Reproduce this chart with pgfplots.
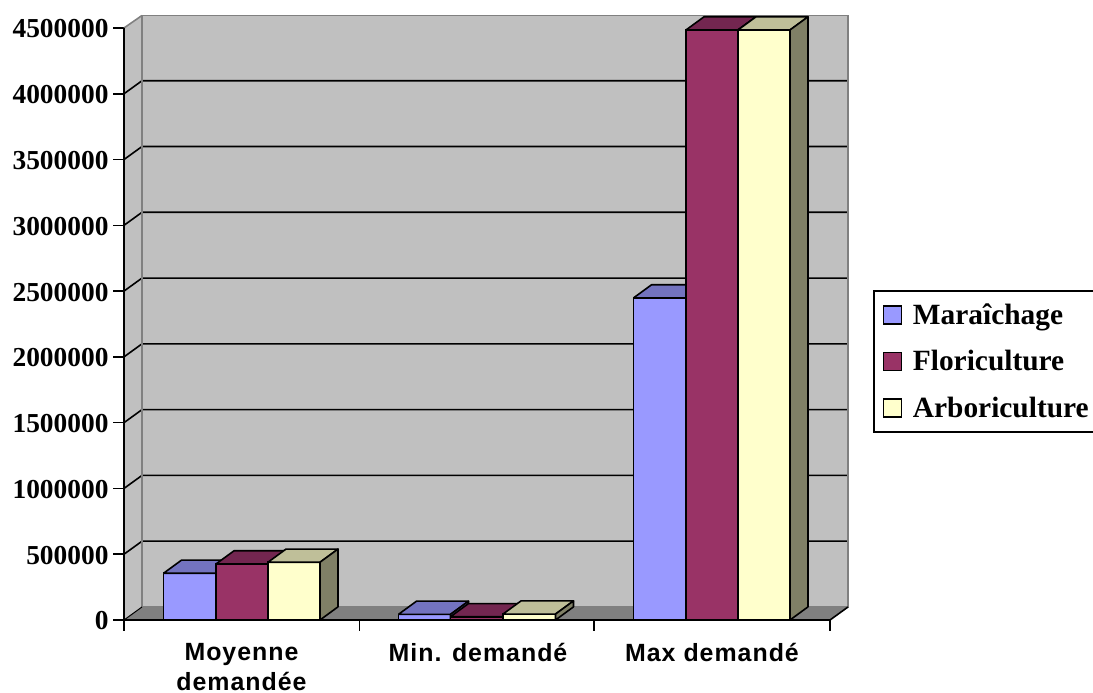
\documentclass[border=0pt]{standalone}
\usepackage{fontspec}
\usepackage{pgfplots}
\pgfplotsset{compat=1.18}
\setmainfont{Liberation Serif}
\newfontfamily\catfont[LetterSpace=4]{Liberation Sans}
\definecolor{wall}{HTML}{C0C0C0}
\definecolor{floorc}{HTML}{808080}
\definecolor{maraF}{HTML}{9999FF}
\definecolor{maraT}{HTML}{7373BF}
\definecolor{floF}{HTML}{993366}
\definecolor{floT}{HTML}{732650}
\definecolor{floS}{HTML}{4D1A33}
\definecolor{arbF}{HTML}{FFFFCC}
\definecolor{arbT}{HTML}{BFBF99}
\definecolor{arbS}{HTML}{808066}
\definecolor{maraS}{HTML}{4D4D80}
\newcommand{\lw}{1.6bp}
% one 3D column: left edge, right edge, value, then front, top and side colours
\newcommand{\column}[6]{%
  \addplot[forget plot,ybar,bar shift=0pt,bar width=#2-#1,fill=#4,draw=black,line width=\lw]
    coordinates {({(#1+#2)/2},#3)};
  \addplot[forget plot,fill=#5,draw=black,line width=\lw,line join=round]
    coordinates {(#1,#3) (#2,#3) (#2+18,#3+100000) (#1+18,#3+100000) (#1,#3)};
  \addplot[forget plot,fill=#6,draw=black,line width=\lw,line join=round]
    coordinates {(#2,0) (#2,#3) (#2+18,#3+100000) (#2+18,100000) (#2,0)};
}
\begin{document}
\begin{tikzpicture}[x=1bp,y=1bp]
\path[use as bounding box] (0,0) rectangle (1093,693);
\begin{axis}[
  at={(124bp,73bp)},anchor=south west,
  scale only axis,width=724bp,height=604.5bp,
  xmin=124,xmax=848,ymin=0,ymax=4595000,
  clip=false,
  axis x line=bottom,axis y line=left,
  axis line style={draw=none,-},
  tick align=outside,major tick length=11bp,
  every tick/.style={black,line width=\lw},
  xtick={124,359.5,594,830},xticklabels={},
  extra x ticks={241.5,478,712},
  extra x tick labels={Moyenne\\demandée,Min. demandé,Max demandé},
  extra x tick style={major tick length=0pt,
    tick label style={align=center,anchor=north,yshift=-19.5bp,
      font=\catfont\fontsize{25}{30}\selectfont\bfseries}},
  ytick={0,500000,...,4500000},
  scaled y ticks=false,
  /pgf/number format/.cd,fixed,1000 sep={},assume math mode=true,
  /pgfplots/.cd,
  y tick label style={font=\fontsize{27.5}{27.5}\selectfont\bfseries,xshift=-1bp,yshift=-1bp},
  legend style={at={(axis cs:873,2508000)},anchor=north west,
    draw=black,line width=\lw,fill=white,
    inner xsep=9bp,inner ysep=11bp,
    /tikz/every odd column/.style={column sep=8.5bp},
    row sep=20.5bp,
    nodes={font=\fontsize{29.5}{29.5}\selectfont\bfseries,anchor=west,inner sep=2bp}},
  legend cell align=left,
  legend image code/.code={\draw[#1,line width=\lw] (0bp,-9bp) rectangle (18bp,9bp);},
]
% back wall, side wall and floor
\addplot[forget plot,fill=wall,draw=none] coordinates {(142,99000) (848,99000) (848,4595000) (142,4595000) (142,99000)};
\addplot[forget plot,fill=wall,draw=none] coordinates {(124,0) (142,99000) (142,4595000) (124,4500000) (124,0)};
\addplot[forget plot,fill=floorc,draw=none] coordinates {(124,0) (830,0) (848,99000) (142,99000) (124,0)};
% grid lines across the back wall and down the side wall
\pgfplotsinvokeforeach{500000,1000000,1500000,2000000,2500000,3000000,3500000,4000000}{
  \addplot[forget plot,black,line width=\lw] coordinates {(124,#1) (142,#1+99000) (848,#1+99000)};
}
% wall outlines
\addplot[forget plot,floorc,line width=\lw] coordinates {(142,99000) (142,4595000) (848,4595000) (848,99000) (142,99000)};
\addplot[forget plot,floorc,line width=\lw] coordinates {(124,4500000) (142,4595000)};
\addplot[forget plot,black,line width=\lw] coordinates {(124,4500000) (124,0) (830,0) (848,99000)};
\addplot[forget plot,black,line width=1pt] coordinates {(124,0) (142,99000)};
% columns
\column{163.5}{216}{355000}{maraF}{maraT}{maraS}
\column{216}{268}{426000}{floF}{floT}{floS}
\column{268}{320}{439000}{arbF}{arbT}{arbS}
\column{398.5}{450.5}{43000}{maraF}{maraT}{maraS}
\column{450.5}{503}{25000}{floF}{floT}{floS}
\column{503}{555.5}{45000}{arbF}{arbT}{arbS}
\column{633.5}{686}{2448000}{maraF}{maraT}{maraS}
\column{686}{738}{4485000}{floF}{floT}{floS}
\column{738}{790}{4485000}{arbF}{arbT}{arbS}
\addlegendimage{fill=maraF,draw=black}\addlegendentry{Maraîchage}
\addlegendimage{fill=floF,draw=black}\addlegendentry{Floriculture}
\addlegendimage{fill=arbF,draw=black}\addlegendentry{Arboriculture}
\end{axis}
\end{tikzpicture}
\end{document}
